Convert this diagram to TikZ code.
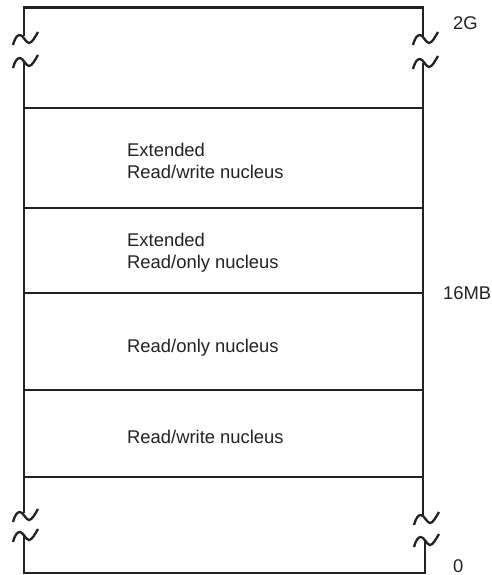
\documentclass[tikz,border=0pt]{standalone}
\usepackage{fontspec}
\setmainfont{Liberation Sans}
\definecolor{ink}{HTML}{222222}
\begin{document}
\begin{tikzpicture}[x=1pt,y=-1pt,
  wall/.style={draw=ink,line width=2.3pt},
  lbl/.style={anchor=west,inner sep=0pt,align=left,text=ink,
    font=\fontsize{18.4}{21.5}\selectfont},
  edge/.style={anchor=west,inner sep=0pt,text=ink,
    font=\fontsize{18.4}{21.5}\selectfont}]
\useasboundingbox (0,0) rectangle (492,575);
\newcommand{\brk}[2]{%
  \draw[wall] ({#1-11},{#2+6}) .. controls ({#1-9},{#2-1}) and ({#1-7},{#2-4}) .. ({#1-4},{#2-4})
    .. controls ({#1-1},{#2-4}) and ({#1+2},{#2+4}) .. ({#1+5},{#2+4})
    .. controls ({#1+8},{#2+4}) and ({#1+11},{#2-2}) .. ({#1+14},{#2-7});}
% corner coordinates
\coordinate (tl) at (24,7.5);
\coordinate (tr) at (423,7.5);
\coordinate (lb1) at (24,36);
\coordinate (rb1) at (423,36);
\coordinate (lb2) at (24,62);
\coordinate (rb2) at (423,63);
\coordinate (lb3) at (24,513);
\coordinate (rb3) at (423,516);
\coordinate (lb4) at (24,536);
\coordinate (rb4) at (425,541);
\coordinate (bl) at (24,573);
\coordinate (br) at (425,573);
% outline
\draw[wall,line join=miter] (lb1) -- (tl) -- (tr) -- (rb1);
\draw[wall] (lb2) -- (lb3);
\draw[wall] (rb2) -- (rb3);
\draw[wall,line join=miter] (lb4) -- (bl) -- (br) -- (rb4);
% breaks
\brk{24}{39}
\brk{24}{62}
\brk{24}{516}
\brk{24}{536}
\brk{424}{39}
\brk{424}{63}
\brk{425}{519}
\brk{425}{541}
% dividers
\coordinate (d1l) at (24,108); \coordinate (d1r) at (423,108);
\coordinate (d2l) at (24,208); \coordinate (d2r) at (423,208);
\coordinate (d3l) at (24,293); \coordinate (d3r) at (423,293);
\coordinate (d4l) at (24,390); \coordinate (d4r) at (423,390);
\coordinate (d5l) at (24,477); \coordinate (d5r) at (423,477);
\draw[wall] (d1l) -- (d1r);
\draw[wall] (d2l) -- (d2r);
\draw[wall] (d3l) -- (d3r);
\draw[wall] (d4l) -- (d4r);
\draw[wall] (d5l) -- (d5r);
% region labels
\node[lbl] (erw) at (127,161) {Extended\\Read/write nucleus};
\node[lbl] (ero) at (127,252.5) {Extended\\Read/only nucleus};
\node[lbl] (ro) at (127,348) {Read/only nucleus};
\node[lbl] (rw) at (127,437) {Read/write nucleus};
% address labels
\node[edge] (g2) at (453,23) {2G};
\node[edge] (mb16) at (443,293) {16MB};
\node[edge] (z0) at (453,566) {0};
\end{tikzpicture}
\end{document}
